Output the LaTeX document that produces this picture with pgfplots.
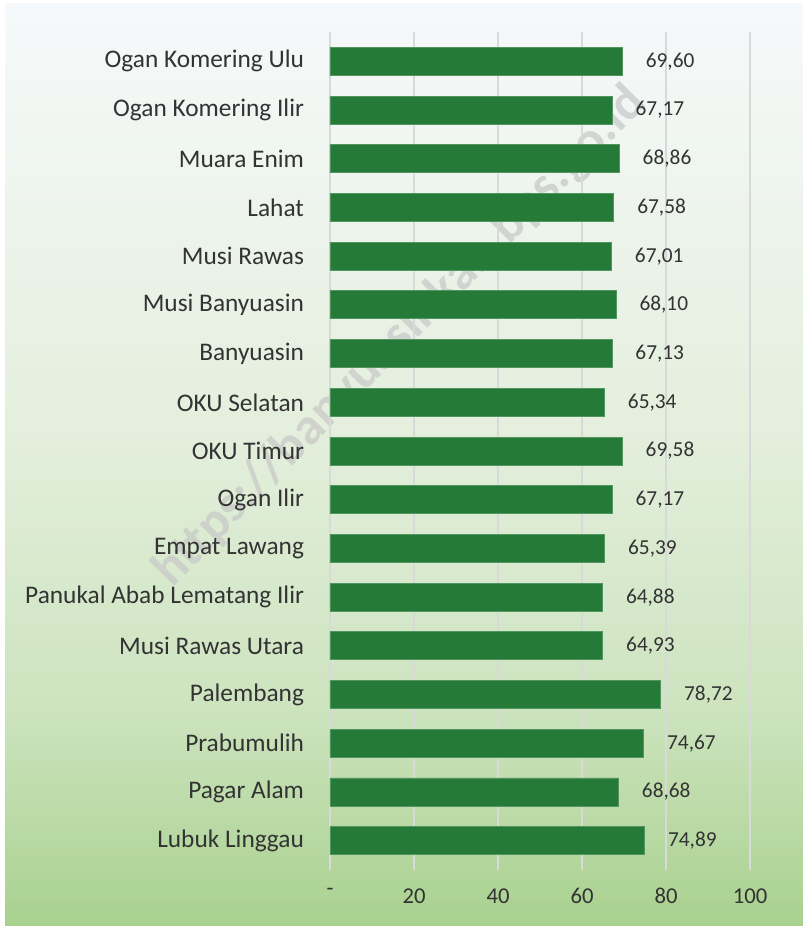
\documentclass[border=0pt]{standalone}
\usepackage{pgfplots}
\pgfplotsset{compat=1.18}
\usepackage{fontspec}
\setmainfont{Carlito}
\definecolor{barc}{HTML}{267A38}
\definecolor{bgA}{HTML}{A9D18F}
\definecolor{bgB}{HTML}{CDE4BF}
\definecolor{bgC}{HTML}{E4EFDD}
\definecolor{bgD}{HTML}{F6F9FB}
\pgfdeclareverticalshading{bgshade}{100bp}{color(0bp)=(bgA); color(25bp)=(bgA); color(37bp)=(bgB); color(52bp)=(bgC); color(75bp)=(bgD); color(100bp)=(bgD)}
\begin{document}
\begin{tikzpicture}
\path[use as bounding box] (0,0) rectangle (602.25pt,694.5pt);
\fill[white] (0,0) rectangle (602.25pt,694.5pt);
\shade[shading=bgshade] (3.75pt,0) rectangle (602.25pt,692pt);
\node[rotate=45.5, text=black!22, opacity=0.7, font=\bfseries\fontsize{39}{44}\selectfont] at (300pt,441.75pt) {https://banyuasinkab.bps.go.id};
\begin{axis}[
  at={(247.5pt,45.75pt)}, anchor=south west,
  width=315pt, height=621pt, scale only axis,
  xmin=0, xmax=100, ymin=-0.5, ymax=16.5, y dir=reverse,
  xbar, bar width=21pt, bar shift=0pt,
  xtick={0,20,...,100}, xticklabels={-,20,40,60,80,100},
  ytick={0,...,16},
  yticklabels={Ogan Komering Ulu,Ogan Komering Ilir,Muara Enim,Lahat,Musi Rawas,Musi Banyuasin,Banyuasin,OKU Selatan,OKU Timur,Ogan Ilir,Empat Lawang,Panukal Abab Lematang Ilir,Musi Rawas Utara,Palembang,Prabumulih,Pagar Alam,Lubuk Linggau},
  xmajorgrids, grid style={draw=black!15, line width=1.1pt},
  axis line style={draw=none},
  tick align=outside, major tick length=4pt,
  xtick style={draw=black!15, line width=1.1pt},
  ytick style={draw=none},
  tick label style={text=black!80},
  yticklabel style={font=\fontsize{19}{22}\selectfont, xshift=-12pt},
  xticklabel style={font=\fontsize{17}{20}\selectfont, yshift=-10pt},
  point meta=x,
  nodes near coords={\pgfmathprintnumber[fixed,fixed zerofill,precision=2,use comma,assume math mode=true]{\pgfplotspointmeta}},
  nodes near coords style={anchor=west, xshift=14pt, text=black!80, font=\fontsize{16}{19}\selectfont},
]
\addplot[fill=barc, draw=barc!80!white, line width=0.6pt] coordinates {
(69.60,0) (67.17,1) (68.86,2) (67.58,3) (67.01,4) (68.10,5) (67.13,6) (65.34,7) (69.58,8) (67.17,9) (65.39,10) (64.88,11) (64.93,12) (78.72,13) (74.67,14) (68.68,15) (74.89,16)
};
\end{axis}
\end{tikzpicture}
\end{document}
